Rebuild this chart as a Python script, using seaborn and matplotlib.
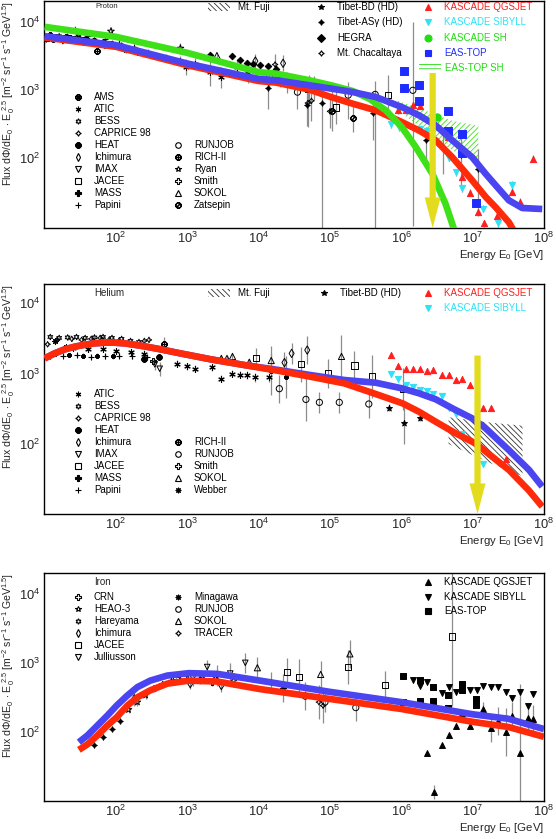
import numpy as np
import matplotlib
matplotlib.use("Agg")
import matplotlib.pyplot as plt
import seaborn as sns
from matplotlib.lines import Line2D
from matplotlib.patches import Rectangle
from matplotlib.markers import MarkerStyle
from matplotlib.ticker import FixedLocator, LogLocator, NullFormatter, FuncFormatter

W, H = 556, 839

RED = "#ff2a0a"
BLUE = "#4a45f0"
GREEN = "#3ee018"
YELLOW = "#e3dc1c"
GREY = "#8c8c8c"
K_RED = "#ff1f1f"
K_CYAN = "#2fe2f5"
K_GREEN = "#22dd11"
K_BLUE = "#1f2cff"

# ---------------- proton panel ----------------
# model curves: log10(E/GeV) and flux
p_blue_loge = [1.0, 2.0, 3.0, 4.0, 4.245, 4.711, 5.014, 5.317, 5.643, 6.007, 6.249, 6.483, 6.716, 6.995, 7.182, 7.322, 7.508, 7.695, 7.975]
p_blue_f = [6270, 4620, 2480, 1470, 1406, 1186, 1060, 944, 796, 567, 428, 304, 183, 103, 59, 40, 24, 18.5, 17.9]
p_red_loge = [1.0, 2.0, 3.0, 4.0, 4.245, 4.711, 5.014, 5.317, 5.643, 6.007, 6.249, 6.483, 6.716, 6.995, 7.182, 7.322, 7.508, 7.578]
p_red_f = [6000, 4370, 2340, 1370, 1300, 1023, 796, 636, 507, 341, 256, 183, 103, 47, 27, 19, 11.4, 8.5]
p_green_loge = [1.0, 2.0, 3.0, 4.0, 4.245, 4.711, 5.014, 5.317, 5.55, 5.783, 6.007, 6.203, 6.436, 6.622, 6.739]
p_green_f = [8600, 6120, 3560, 1850, 1760, 1406, 1186, 977, 754, 507, 287, 146, 59, 21, 9]

p_ams_e = [11, 14, 18, 23, 30, 39, 50, 65, 85]
p_ams_f = [5900, 6000, 5950, 5850, 5700, 5500, 5300, 5050, 4800]
p_bess_e = [12, 16, 21, 28, 37, 50, 68, 90, 120]
p_bess_f = [6300, 6250, 6150, 5950, 5650, 5400, 5100, 4850, 4550]
p_caprice_e = [10.5, 13.5, 19, 26, 35, 48, 66, 90, 130, 190]
p_caprice_f = [5600, 5700, 5750, 5600, 5400, 5150, 4900, 4600, 4300, 3950]
p_atic_e = [20, 32, 50, 80, 130, 200, 320, 500, 800, 970, 1300, 2100, 3000, 5000, 7000]
p_atic_f = [5700, 5400, 5000, 4600, 4100, 3700, 3300, 3000, 2700, 2200, 2450, 1850, 1550, 2200, 1800]
p_atic_err = [0.02, 0.02, 0.03, 0.03, 0.04, 0.04, 0.05, 0.06, 0.07, 0.12, 0.08, 0.2, 0.15, 0.12, 0.15]
p_imax_e = [18, 35, 70, 140]
p_imax_f = [5300, 5000, 4500, 3900]
p_mass_e = [12, 20, 35, 60]
p_mass_f = [6700, 6400, 5600, 5000]
p_papini_e = [15, 27, 40, 70, 110, 180, 280]
p_papini_f = [6000, 7800, 6300, 5600, 5000, 4300, 3600]
p_heat_e = [13, 24, 45]
p_heat_f = [5700, 5600, 5100]
p_rich_e = [54]
p_rich_f = [3800]
p_ryan_e = [30, 85, 800]
p_ryan_f = [6900, 7400, 4150]
p_sokol_e = [2600]
p_sokol_f = [3250]
p_hegra_e = [2100, 4300, 5400, 6900, 8400, 10500, 13500, 17300]
p_hegra_f = [3300, 3200, 2750, 2500, 2400, 2330, 2250, 2040]
p_jacee_e = [1.4e4, 2.5e4, 5e4, 1.2e5, 6.5e5]
p_jacee_f = [1500, 1300, 1050, 560, 850]
p_jacee_err = [0.12, 0.15, 0.2, 0.25, 0.3]
p_runjob_e = [2e4, 3.5e4, 6e4, 1.8e5, 4.3e5, 1.45e6]
p_runjob_f = [1400, 940, 1150, 850, 870, 1000]
p_runjob_lo = [0.1, 0.25, 0.2, 0.35, 2.0, 2.0]
p_runjob_hi = [0.1, 0.2, 0.15, 0.2, 0.2, 1.0]
p_zatsepin_e = [1.07e5, 2.1e5]
p_zatsepin_f = [500, 390]
p_ichimura_e = [9000, 2.2e4]
p_ichimura_f = [2700, 2500]
p_chacaltaya_e = [1.7e4, 4.9e4, 5.5e4, 1.0e5]
p_chacaltaya_f = [2400, 650, 700, 490]
p_tibet_as_e = [1.35e4, 4.7e4, 7.8e4, 4e5, 2.2e6, 3.8e6, 6.8e6, 1.2e7]
p_tibet_as_f = [1070, 600, 660, 470, 183, 145, 112, 69]
p_tibet_as_lo = [0.3, 0.3, 2.0, 0.4, 0.3, 0.4, 0.5, 0.6]
p_tibet_as_hi = [0.2, 0.3, 0.3, 0.3, 0.2, 0.3, 0.3, 0.3]
p_kq_e = [9.0e5, 1.15e6, 1.45e6, 1.8e6, 4.5e6, 7.2e6, 9.1e6, 1.17e7, 1.45e7, 2.2e7, 3.6e7, 4.6e7, 7.1e7]
p_kq_f = [510, 510, 610, 590, 205, 53, 31, 16, 11, 14, 32, 23, 98]
p_ks_e = [7.1e5, 9.3e5, 1.85e6, 2.3e6, 4.6e6, 5.8e6, 7.2e6, 1.4e7, 2.3e7, 3.6e7]
p_ks_f = [315, 285, 270, 250, 102, 62, 36, 18, 11, 41]
p_ksh_e = [3.2e6]
p_ksh_f = [400]
p_eas_e = [1.1e6, 1.1e6, 1.75e6, 1.75e6, 4.5e6, 4.5e6, 7.0e6, 7.0e6, 1.1e7]
p_eas_f = [1900, 1070, 1180, 690, 490, 255, 230, 120, 22]
p_eassh_e = [9e5, 2.2e6, 5.2e6, 1.2e7]
p_eassh_hi = [700, 500, 355, 300]
p_eassh_lo = [500, 255, 130, 83]

# ---------------- helium panel ----------------
he_red_loge = [1.0, 1.14, 1.28, 1.42, 1.56, 1.70, 1.84, 1.98, 2.12, 2.26, 2.40, 2.63, 2.86, 3.33, 3.80,
               4.26, 4.73, 5.20, 5.643, 6.017, 6.249, 6.483, 6.762, 7.042, 7.275, 7.508, 7.788, 7.975]
he_red_f = [1640, 1930, 2200, 2400, 2560, 2680, 2740, 2740, 2680, 2560, 2430, 2200, 1970, 1590, 1320,
            1100, 900, 726, 512, 378, 287, 207, 142, 102, 66, 43, 22, 13]
he_blue_loge = [1.0, 1.14, 1.28, 1.42, 1.56, 1.70, 1.84, 1.98, 2.12, 2.26, 2.40, 2.63, 2.86, 3.33, 3.80,
                4.26, 4.73, 5.20, 5.643, 6.007, 6.249, 6.483, 6.716, 6.995, 7.182, 7.508, 7.79, 7.975]
he_blue_f = [1640, 1930, 2200, 2400, 2560, 2680, 2740, 2740, 2680, 2560, 2430, 2200, 1970, 1590, 1320,
             1130, 950, 810, 741, 617, 524, 431, 321, 231, 167, 82, 43, 25]

he_bess_e = [12, 16, 21, 28, 37, 50, 66, 88, 120, 160, 210]
he_bess_f = [3300, 3200, 3250, 3300, 3200, 3250, 3300, 3200, 3100, 2900, 2800]
he_caprice_e = [11, 15, 24, 33, 45, 60, 80, 110, 150, 250, 290]
he_caprice_f = [2600, 3000, 3100, 3000, 3100, 3200, 3000, 2900, 2700, 2900, 3000]
he_atic_e = [25, 40, 65, 100, 160, 250, 720, 980, 1300, 2200, 3000, 4200, 5400, 6900, 9000, 1.4e4]
he_atic_f = [2300, 2200, 2250, 2100, 2000, 1900, 1380, 1260, 1170, 1220, 850, 1000, 960, 960, 880, 880]
he_atic_err = [0.03, 0.03, 0.03, 0.04, 0.04, 0.05, 0.05, 0.05, 0.05, 0.05, 0.05, 0.05, 0.05, 0.06, 0.06, 0.06]
he_heat_e = [250, 400]
he_heat_f = [1630, 1700]
he_ichimura_e = [2.3e4, 2.9e4, 4.8e4]
he_ichimura_f = [1430, 1930, 2150]
he_imax_e = [350, 410]
he_imax_f = [1350, 1170]
he_jacee_e = [9100, 3.9e4, 9.3e4, 2.2e5, 3.9e5, 1.05e6]
he_jacee_f = [1640, 1350, 1000, 1300, 910, 610]
he_mass_e = [14, 22, 35, 55, 90, 1.5e4, 2.4e4]
he_mass_f = [1900, 1850, 1800, 1800, 1750, 1100, 900]
he_papini_e = [12, 18, 28, 45, 70, 110, 170, 270]
he_papini_f = [1750, 1800, 1850, 1700, 1750, 1800, 1750, 1700]
he_rich_e = [470]
he_rich_f = [2600]
he_runjob_e = [1.95e4, 4.6e4, 7.1e4, 1.35e5, 3.5e5]
he_runjob_f = [610, 430, 390, 390, 370]
he_smith_e = [330]
he_smith_f = [1500]
he_sokol_e = [3000, 3600, 4300, 7400, 1.5e4, 1.45e5]
he_sokol_f = [1640, 1640, 1750, 1450, 1530, 1750]
he_webber_e = [14, 20]
he_webber_f = [2900, 2400]
he_tibet_e = [6.7e5, 1.1e6, 1.8e6]
he_tibet_f = [330, 200, 235]
he_kq_e = [7.1e5, 9.1e5, 1.15e6, 1.45e6, 1.8e6, 2.3e6, 2.8e6, 3.7e6, 4.6e6, 5.8e6, 7.2e6, 9.1e6, 1.4e7, 1.8e7, 2.9e7]
he_kq_f = [1810, 1300, 1170, 1170, 1170, 1070, 1120, 960, 940, 800, 850, 680, 330, 330, 62]
he_ks_e = [7.1e5, 9.1e5, 1.15e6, 1.45e6, 1.8e6, 2.3e6, 2.8e6, 3.7e6, 4.6e6, 5.8e6, 7.2e6, 1.4e7]
he_ks_f = [970, 850, 680, 650, 590, 560, 520, 480, 330, 270, 140, 52]
he_fuji_e = [4.6e6, 1.9e7, 5e7]
he_fuji_hi = [240, 200, 182]
he_fuji_lo = [100, 52, 35]

# ---------------- iron panel ----------------
fe_curve_loge = [1.48, 1.60, 1.74, 1.88, 2.01, 2.16, 2.30, 2.48, 2.72, 3.02, 3.42, 4.02, 5.0, 6.0, 7.0, 7.5, 8.0]
fe_blue_f = [71, 89, 124, 173, 241, 337, 445, 553, 655, 709, 693, 553, 380, 270, 180, 155, 110]
fe_red_f = [55, 66, 89, 124, 163, 241, 317, 400, 500, 553, 537, 417, 300, 215, 140, 118, 85]

fe_hareyama_e = [50, 65, 87, 115]
fe_hareyama_f = [65, 85, 110, 145]
fe_heao_e = [150, 200, 260, 340, 450, 600]
fe_heao_f = [210, 270, 340, 420, 480, 540]
fe_crn_e = [700, 1000, 1500, 2200]
fe_crn_f = [600, 580, 560, 520]
fe_ichimura_e = [180, 1100, 3000]
fe_ichimura_f = [300, 500, 470]
fe_julliusson_e = [1200, 1900, 2600, 4000, 6500]
fe_julliusson_f = [600, 870, 650, 700, 1000]
fe_tracer_e = [800, 1600, 2500, 4500, 7e4, 8e4]
fe_tracer_f = [560, 620, 600, 560, 270, 240]
fe_minagawa_e = [1.5e4, 2.2e4]
fe_minagawa_f = [520, 430]
fe_sokol_e = [9600, 7.4e4, 1.9e5]
fe_sokol_f = [850, 680, 1350]
fe_jacee_e = [2.5e4, 3.7e4, 1.8e5, 5.9e5, 5.1e6]
fe_jacee_f = [740, 630, 870, 480, 2400]
fe_jacee_err = [0.2, 0.25, 0.25, 0.2, 1.0]
fe_runjob_e = [4.5e4, 8.5e4, 2.3e5]
fe_runjob_f = [330, 270, 225]
fe_kq_e = [2.3e6, 2.9e6, 3.7e6, 4.6e6, 5.8e6, 7.2e6, 9.2e6, 1.4e7, 1.8e7, 2.3e7, 2.9e7, 3.6e7, 4.6e7, 5.9e7, 7.1e7]
fe_kq_f = [50, 13.5, 65, 91, 122, 186, 122, 215, 115, 145, 100, 170, 50, 160, 155]
fe_ks_e = [1.45e6, 1.8e6, 2.3e6, 3.7e6, 4.6e6, 5.8e6, 9.2e6, 1.15e7, 1.4e7, 1.8e7, 2.3e7, 2.9e7, 3.6e7, 4.6e7, 5.9e7, 7.1e7]
fe_ks_f = [560, 470, 520, 370, 450, 380, 410, 410, 470, 440, 440, 380, 310, 380, 240, 355]
fe_eas_e = [1.07e6, 1.07e6, 1.8e6, 1.8e6, 2.8e6, 2.8e6, 4.5e6, 4.5e6, 7.1e6, 7.1e6, 1.1e7, 1.1e7]
fe_eas_f = [650, 270, 560, 280, 450, 280, 345, 225, 500, 410, 300, 245]


def fig_pt(px, py):
    return px / W, 1 - py / H


def draw_set(ax, e, f, marker, color="k", open_=True, size=16, lo=None, hi=None, err=None):
    f = np.asarray(f, float)
    if err is None:
        err = [0.03] * len(f)
    lo = err if lo is None else lo
    hi = err if hi is None else hi
    ax.vlines(e, f / 10 ** np.asarray(lo), f * 10 ** np.asarray(hi), color=GREY, lw=0.9, zorder=2)
    kws = dict(ax=ax, marker=marker, s=size, legend=False, zorder=5)
    if MarkerStyle(marker).is_filled():
        kws.update(color=color, facecolor="none" if open_ else color, edgecolor=color, linewidth=0.7)
    else:
        kws.update(color=color, facecolor=color, linewidth=0.8)
    sns.scatterplot(x=e, y=f, **kws)


def curve(ax, loge, f, color, z):
    sns.lineplot(x=10 ** np.asarray(loge), y=f, ax=ax, color=color, lw=4.8, zorder=z, sort=False,
                 estimator=None, solid_capstyle="butt", solid_joinstyle="round")


def arrow(ax, e, top, bottom):
    ax.annotate("", xy=(e, bottom), xytext=(e, top), zorder=10,
                arrowprops=dict(arrowstyle="simple,head_length=2.2,head_width=1.15,tail_width=0.45",
                                mutation_scale=10, fc=YELLOW, ec="none", shrinkA=0, shrinkB=0))


def key(fig, px, py, marker, label, mcolor="k", tcolor="k", open_=True, ms=4.0):
    x, y = fig_pt(px, py)
    filled = MarkerStyle(marker).is_filled()
    fig.add_artist(Line2D([x], [y], marker=marker, color=mcolor, ms=ms, mew=0.8,
                          mfc=("none" if (open_ and filled) else mcolor), transform=fig.transFigure))
    if label:
        fig.text(fig_pt(px + 16, py)[0], y, label, color=tcolor, fontsize=7, va="center", ha="left")


def hatch_key(fig, px, py, label, color, hatch, tcolor="k"):
    x0, y0 = fig_pt(px, py + 4)
    fig.add_artist(Rectangle((x0, y0), 22 / W, 8 / H, transform=fig.transFigure,
                             facecolor="none", edgecolor=color, hatch=hatch, lw=0))
    if label:
        fig.text(fig_pt(px + 30, py)[0], fig_pt(px, py)[1], label, color=tcolor, fontsize=7,
                 va="center", ha="left")


def style_axes(ax, ylim):
    ax.set_xscale("log")
    ax.set_yscale("log")
    ax.set_xlim(9.8, 1e8)
    ax.set_ylim(*ylim)
    fmt = FuncFormatter(lambda v, _: r"$10^{%d}$" % int(round(np.log10(v))))
    ax.xaxis.set_major_locator(FixedLocator([1e2, 1e3, 1e4, 1e5, 1e6, 1e7, 1e8]))
    ax.yaxis.set_major_locator(FixedLocator([1e2, 1e3, 1e4]))
    ax.xaxis.set_major_formatter(fmt)
    ax.yaxis.set_major_formatter(fmt)
    ax.xaxis.set_minor_locator(LogLocator(base=10, subs=np.arange(2, 10), numticks=20))
    ax.yaxis.set_minor_locator(LogLocator(base=10, subs=np.arange(2, 10), numticks=20))
    ax.xaxis.set_minor_formatter(NullFormatter())
    ax.yaxis.set_minor_formatter(NullFormatter())
    ax.tick_params(which="both", direction="in", top=False, right=False, color="k", width=0.8)
    ax.tick_params(which="major", length=6)
    ax.tick_params(which="minor", length=3.5)
    ax.tick_params(axis="x", which="major", pad=2, labelsize=9.3)
    ax.tick_params(axis="y", which="major", pad=3, labelsize=9.3)
    for s in ax.spines.values():
        s.set_color("k")
        s.set_linewidth(1.0)
    ax.set_ylabel(r"Flux d$\Phi$/dE$_0$ $\cdot$ E$_0^{\ 2.5}$ [m$^{-2}$ sr$^{-1}$ s$^{-1}$ GeV$^{1.5}$]",
                  fontsize=7.6, loc="top", labelpad=1)
    ax.set_xlabel(r"Energy E$_0$ [GeV]", fontsize=8.2, loc="right")
    ax.xaxis.set_label_coords(1.0, -0.088)


sns.set_style("white")
plt.rcParams["font.family"] = ["Liberation Sans", "DejaVu Sans"]
plt.rcParams["mathtext.fontset"] = "custom"
plt.rcParams["mathtext.rm"] = "Liberation Sans"
plt.rcParams["mathtext.it"] = "Liberation Sans:italic"
plt.rcParams["mathtext.bf"] = "Liberation Sans:bold"
plt.rcParams["hatch.linewidth"] = 0.6

fig = plt.figure(figsize=(W / 100, H / 100), dpi=100)
left, width = 44 / W, 500 / W
ax1 = fig.add_axes([left, 1 - 228 / H, width, 227.5 / H])
ax2 = fig.add_axes([left, 1 - 514 / H, width, 230 / H])
ax3 = fig.add_axes([left, 1 - 801 / H, width, 228 / H])

# ---- proton ----
ax = ax1
ax.fill_between(p_eassh_e, p_eassh_lo, p_eassh_hi, facecolor="none", edgecolor=GREEN, hatch="//////", lw=0, zorder=1)
draw_set(ax, p_ams_e, p_ams_f, r"$\otimes$", open_=False)
draw_set(ax, p_bess_e, p_bess_f, (6, 1, 0))
draw_set(ax, p_caprice_e, p_caprice_f, (4, 1, 0))
draw_set(ax, p_atic_e, p_atic_f, (6, 2, 0), err=p_atic_err)
draw_set(ax, p_imax_e, p_imax_f, "v")
draw_set(ax, p_mass_e, p_mass_f, "P", open_=False, size=12)
draw_set(ax, p_papini_e, p_papini_f, "+", err=[0.03, 0.06, 0.03, 0.03, 0.03, 0.04, 0.05])
draw_set(ax, p_heat_e, p_heat_f, r"$\circledR$", open_=False)
draw_set(ax, p_rich_e, p_rich_f, r"$\oplus$", open_=False, err=[0.05])
draw_set(ax, p_ryan_e, p_ryan_f, "*", size=26, err=[0.05, 0.06, 0.08])
draw_set(ax, p_sokol_e, p_sokol_f, "^", size=20)
draw_set(ax, p_hegra_e, p_hegra_f, "D", open_=False, size=11, err=[0.04] * 8)
draw_set(ax, p_jacee_e, p_jacee_f, "s", size=20, err=p_jacee_err)
draw_set(ax, p_runjob_e, p_runjob_f, "o", size=20, lo=p_runjob_lo, hi=p_runjob_hi)
draw_set(ax, p_zatsepin_e, p_zatsepin_f, r"$\oslash$", open_=False, err=[0.3, 0.2])
draw_set(ax, p_ichimura_e, p_ichimura_f, "d", size=18, err=[0.1, 0.12])
draw_set(ax, p_chacaltaya_e, p_chacaltaya_f, (4, 1, 0), err=[0.15, 0.35, 0.3, 0.25])
draw_set(ax, p_tibet_as_e, p_tibet_as_f, (4, 1, 0), open_=False, lo=p_tibet_as_lo, hi=p_tibet_as_hi)
draw_set(ax, p_kq_e, p_kq_f, "^", color=K_RED, open_=False, size=20, err=[0.05] * 13)
draw_set(ax, p_ks_e, p_ks_f, "v", color=K_CYAN, open_=False, size=20, err=[0.05] * 10)
draw_set(ax, p_ksh_e, p_ksh_f, "o", color=K_GREEN, open_=False, size=28, err=[0.02])
draw_set(ax, p_eas_e, p_eas_f, "s", color=K_BLUE, open_=False, size=26, err=[0.0] * 9)
curve(ax, p_red_loge, p_red_f, RED, 6)
curve(ax, p_green_loge, p_green_f, GREEN, 7)
curve(ax, p_blue_loge, p_blue_f, BLUE, 8)
style_axes(ax, (9.4, 2.1e4))
arrow(ax, 2.75e6, 1800, 9.4)

# ---- helium ----
ax = ax2
ax.fill_between(he_fuji_e, he_fuji_lo, he_fuji_hi, facecolor="none", edgecolor="#303030", hatch="\\\\\\\\\\\\", lw=0, zorder=1)
draw_set(ax, he_bess_e, he_bess_f, (6, 1, 0))
draw_set(ax, he_caprice_e, he_caprice_f, (4, 1, 0))
draw_set(ax, he_atic_e, he_atic_f, (6, 2, 0), err=he_atic_err)
draw_set(ax, he_heat_e, he_heat_f, r"$\circledR$", open_=False)
draw_set(ax, he_ichimura_e, he_ichimura_f, "d", size=18, err=[0.15, 0.15, 0.2])
draw_set(ax, he_imax_e, he_imax_f, "v", err=[0.08, 0.1])
draw_set(ax, he_jacee_e, he_jacee_f, "s", size=20, err=[0.15, 0.25, 0.2, 0.2, 0.3, 0.3])
draw_set(ax, he_mass_e, he_mass_f, "P", open_=False, size=12, err=[0.03] * 5 + [0.35, 0.3])
draw_set(ax, he_papini_e, he_papini_f, "+")
draw_set(ax, he_rich_e, he_rich_f, r"$\oplus$", open_=False, err=[0.1])
draw_set(ax, he_runjob_e, he_runjob_f, "o", size=20, err=[0.2, 0.3, 0.15, 0.15, 0.2])
draw_set(ax, he_smith_e, he_smith_f, "P", size=16)
draw_set(ax, he_sokol_e, he_sokol_f, "^", size=20, err=[0.03, 0.03, 0.03, 0.05, 0.1, 0.3])
draw_set(ax, he_webber_e, he_webber_f, (8, 2, 0))
draw_set(ax, he_tibet_e, he_tibet_f, "*", open_=False, size=20, err=[0.05, 0.3, 0.05])
draw_set(ax, he_kq_e, he_kq_f, "^", color=K_RED, open_=False, size=20, err=[0.0] * 15)
draw_set(ax, he_ks_e, he_ks_f, "v", color=K_CYAN, open_=False, size=20, err=[0.0] * 12)
curve(ax, he_blue_loge, he_blue_f, BLUE, 6)
curve(ax, he_red_loge, he_red_f, RED, 7)
style_axes(ax, (10.2, 1.86e4))
arrow(ax, 1.17e7, 1800, 10.2)

# ---- iron ----
ax = ax3
draw_set(ax, fe_hareyama_e, fe_hareyama_f, (4, 1, 0), open_=False)
draw_set(ax, fe_heao_e, fe_heao_f, "*", size=24, err=[0.05] * 6)
draw_set(ax, fe_crn_e, fe_crn_f, "P", size=16, err=[0.05] * 4)
draw_set(ax, fe_ichimura_e, fe_ichimura_f, "d", size=18, err=[0.1, 0.08, 0.1])
draw_set(ax, fe_julliusson_e, fe_julliusson_f, "v", err=[0.12, 0.1, 0.15, 0.15, 0.15])
draw_set(ax, fe_tracer_e, fe_tracer_f, (4, 1, 0), err=[0.05, 0.08, 0.08, 0.1, 0.25, 0.25])
draw_set(ax, fe_minagawa_e, fe_minagawa_f, (8, 2, 0), err=[0.15, 0.2])
draw_set(ax, fe_sokol_e, fe_sokol_f, "^", size=20, err=[0.15, 0.2, 0.2])
draw_set(ax, fe_jacee_e, fe_jacee_f, "s", size=20, err=fe_jacee_err)
draw_set(ax, fe_runjob_e, fe_runjob_f, "o", size=20, err=[0.2, 0.15, 0.2])
draw_set(ax, fe_kq_e, fe_kq_f, "^", open_=False, size=18,
         err=[0.0, 0.1, 0.0, 0.0, 0.0, 0.0, 0.0, 0.1, 0.2, 0.2, 0.35, 0.2, 1.0, 0.2, 0.2])
draw_set(ax, fe_ks_e, fe_ks_f, "v", open_=False, size=18, err=[0.0] * 16)
draw_set(ax, fe_eas_e, fe_eas_f, "s", open_=False, size=18, err=[0.0] * 12)
curve(ax, fe_curve_loge, fe_red_f, RED, 6)
curve(ax, fe_curve_loge, fe_blue_f, BLUE, 7)
style_axes(ax, (10, 2.0e4))

# ---- legends ----
fig.text(*fig_pt(95, 7), "Proton", fontsize=5.5, va="center")
fig.text(*fig_pt(94, 293), "Helium", fontsize=7, va="center")
fig.text(*fig_pt(94, 582), "Iron", fontsize=7, va="center")
hatch_key(fig, 208, 7, "Mt. Fuji", "#303030", "\\\\\\\\\\\\")
hatch_key(fig, 208, 293, "Mt. Fuji", "#303030", "\\\\\\\\\\\\")

p1_col1 = [("AMS", r"$\otimes$", False), ("ATIC", (6, 2, 0), True), ("BESS", (6, 1, 0), True),
           ("CAPRICE 98", (4, 1, 0), True), ("HEAT", r"$\circledR$", False), ("Ichimura", "d", True),
           ("IMAX", "v", True), ("JACEE", "s", True), ("MASS", "P", False), ("Papini", "+", True)]
for i, (lab, m, o) in enumerate(p1_col1):
    key(fig, 78, 97 + 12 * i, m, lab, open_=o)
p1_col2 = [("RUNJOB", "o", True), ("RICH-II", r"$\oplus$", False), ("Ryan", "*", True),
           ("Smith", "P", True), ("SOKOL", "^", True), ("Zatsepin", r"$\oslash$", False)]
for i, (lab, m, o) in enumerate(p1_col2):
    key(fig, 178, 145 + 12 * i, m, lab, open_=o)
p1_top = [("Tibet-BD (HD)", "*", False), ("Tibet-AS\u03b3 (HD)", (4, 1, 0), False),
          ("HEGRA", "D", False), ("Mt. Chacaltaya", (4, 1, 0), True)]
for i, (lab, m, o) in enumerate(p1_top):
    key(fig, 321, 7 + 15.3 * i, m, lab, open_=o)
p1_kas = [("KASCADE QGSJET", "^", K_RED), ("KASCADE SIBYLL", "v", K_CYAN),
          ("KASCADE SH", "o", K_GREEN), ("EAS-TOP", "s", K_BLUE)]
for i, (lab, m, c) in enumerate(p1_kas):
    key(fig, 428, 7 + 15.3 * i, m, lab, mcolor=c, tcolor=c, open_=False, ms=5)
hatch_key(fig, 419, 68, "", K_GREEN, "----")
fig.text(*fig_pt(445, 68), "EAS-TOP SH", color=K_GREEN, fontsize=7, va="center")

p2_col1 = [("ATIC", (6, 2, 0), True), ("BESS", (6, 1, 0), True), ("CAPRICE 98", (4, 1, 0), True),
           ("HEAT", r"$\circledR$", False), ("Ichimura", "d", True), ("IMAX", "v", True),
           ("JACEE", "s", True), ("MASS", "P", False), ("Papini", "+", True)]
for i, (lab, m, o) in enumerate(p2_col1):
    key(fig, 78, 394 + 12 * i, m, lab, open_=o)
p2_col2 = [("RICH-II", r"$\oplus$", False), ("RUNJOB", "o", True), ("Smith", "P", True),
           ("SOKOL", "^", True), ("Webber", (8, 2, 0), True)]
for i, (lab, m, o) in enumerate(p2_col2):
    key(fig, 178, 442 + 12 * i, m, lab, open_=o)
key(fig, 324, 293, "*", "Tibet-BD (HD)", open_=False)
key(fig, 428, 293, "^", "KASCADE QGSJET", mcolor=K_RED, tcolor=K_RED, open_=False, ms=5)
key(fig, 428, 308, "v", "KASCADE SIBYLL", mcolor=K_CYAN, tcolor=K_CYAN, open_=False, ms=5)

p3_col1 = [("CRN", "P", True), ("HEAO-3", "*", True), ("Hareyama", (6, 1, 0), True),
           ("Ichimura", "d", True), ("JACEE", "s", True), ("Julliusson", "v", True)]
for i, (lab, m, o) in enumerate(p3_col1):
    key(fig, 78, 597 + 12 * i, m, lab, open_=o)
p3_col2 = [("Minagawa", (8, 2, 0), True), ("RUNJOB", "o", True), ("SOKOL", "^", True),
           ("TRACER", (4, 1, 0), True)]
for i, (lab, m, o) in enumerate(p3_col2):
    key(fig, 178, 597 + 12 * i, m, lab, open_=o)
p3_kas = [("KASCADE QGSJET", "^"), ("KASCADE SIBYLL", "v"), ("EAS-TOP", "s")]
for i, (lab, m) in enumerate(p3_kas):
    key(fig, 428, 582 + 14.5 * i, m, lab, open_=False, ms=5)

fig.savefig("out.png", dpi=100)
